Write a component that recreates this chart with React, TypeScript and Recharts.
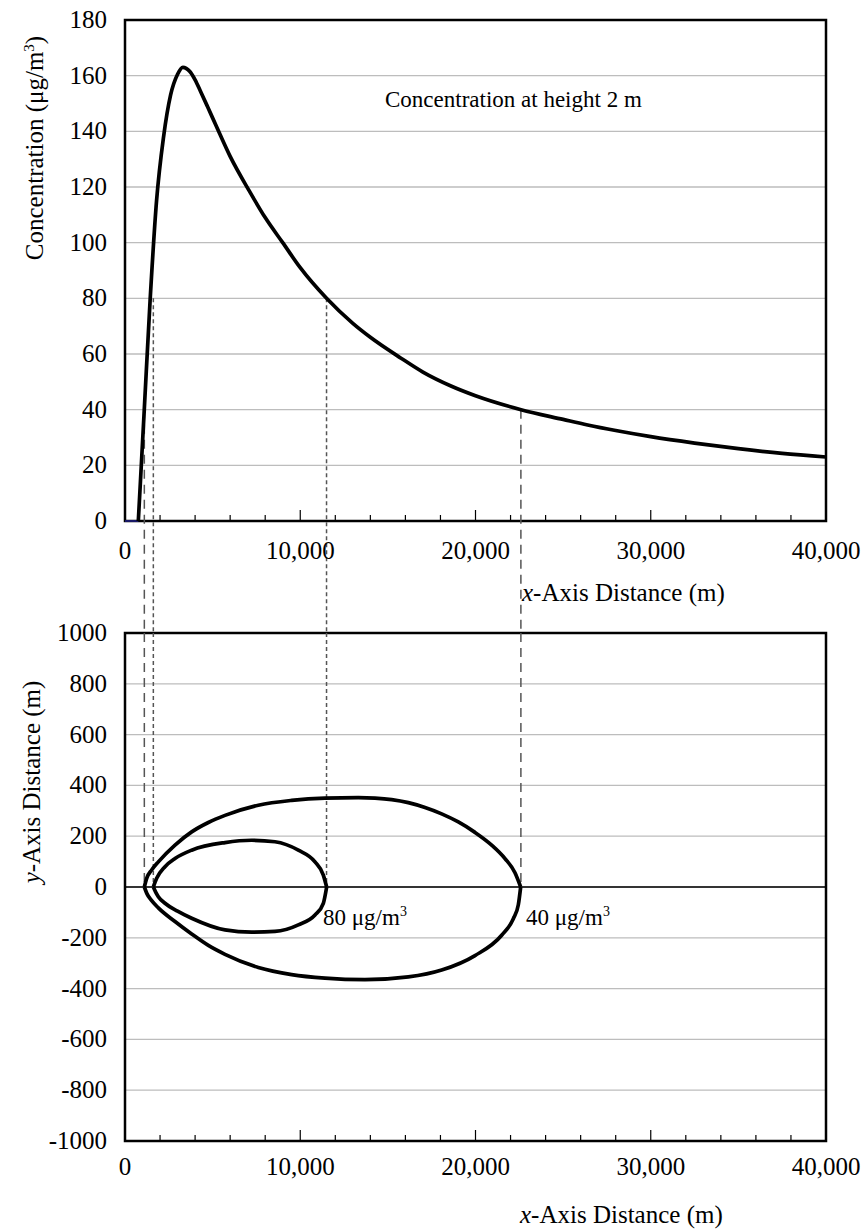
import React from 'react';
import {
  LineChart,
  Line,
  XAxis,
  YAxis,
  CartesianGrid,
  ReferenceLine,
  ReferenceArea,
} from 'recharts';

// ground-level concentration along the plume axis
const concX = [760, 1100, 1430, 1800, 2200, 2600, 3000, 3300, 3700, 4000, 4300, 4700, 5200, 6000, 7100, 8000, 9000, 10000, 11500, 13000, 14000, 15750, 17000, 18600, 20000, 22600, 25000, 26400, 28000, 30000, 32500, 35000, 37500, 40000];
const concVal = [0, 40, 79, 115, 138, 153, 160.5, 163, 161.5, 158.5, 154.5, 149, 142, 131, 118.5, 109, 100, 91, 80, 71, 66, 58.5, 53.5, 48.5, 45, 40, 36.5, 34.5, 32.5, 30.3, 28, 26, 24.3, 23];
const baseX = [0, 760];
const baseVal = [0, 0];

// isopleths (upper / lower halves), x and y distance in m
const c40UpX = [1103, 1236, 1522, 1902, 2853, 3804, 4755, 5706, 7608, 9510, 11412, 13314, 14265, 15216, 16167, 17118, 18069, 19020, 19971, 20922, 21683, 22253, 22577];
const c40UpY = [0, 34, 67, 99, 165, 217, 254, 282, 322, 341, 350, 352, 350, 344, 332, 313, 288, 256, 215, 165, 112, 56, 0];
const c40LoX = [1103, 1250, 1500, 1902, 2853, 3804, 4755, 5706, 7608, 9510, 11412, 13694, 16167, 18069, 19971, 21493, 22158, 22444, 22577];
const c40LoY = [0, -26, -52, -82, -136, -185, -230, -265, -317, -345, -359, -365, -354, -327, -270, -190, -125, -70, 0];
const c80UpX = [1617, 1807, 2282, 2853, 3804, 5706, 7228, 8559, 9890, 10841, 11317, 11507];
const c80UpY = [0, 34, 80, 112, 145, 175, 184, 178, 145, 99, 47, 0];
const c80LoX = [1617, 1750, 1902, 2282, 3000, 3804, 5706, 7228, 8559, 9890, 10841, 11317, 11507];
const c80LoY = [0, -20, -38, -64, -95, -123, -169, -178, -175, -149, -110, -64, 0];

// drop lines linking the two panels
const dropX = [1103, 1617, 11500, 22590];
const dropC = [40, 80, 80, 40];
const dropLong = [true, false, false, true];

const xTicks = [0, 2000, 4000, 6000, 8000, 10000, 12000, 14000, 16000, 18000, 20000, 22000, 24000, 26000, 28000, 30000, 32000, 34000, 36000, 38000, 40000];
const concTicks = [0, 20, 40, 60, 80, 100, 120, 140, 160, 180];
const yTicks = [-1000, -800, -600, -400, -200, 0, 200, 400, 600, 800, 1000];

const zip = (xs: number[], ys: number[]) => xs.map((x, i) => ({ x, y: ys[i] }));

const FONT = "'Liberation Serif', 'Times New Roman', serif";
const GAP = 112; // px between bottom of top plot and top of lower plot

const makeXTick = (labelDy: number) => (props: any) => {
  const { x, y, payload } = props;
  const v = payload.value as number;
  const major = v % 10000 === 0;
  return (
    <g>
      {v > 0 && v < 40000 && (
        <line x1={x} x2={x} y1={y} y2={y - (major ? 11 : 6)} stroke="#000" strokeWidth={1.2} />
      )}
      {major && (
        <text x={x} y={y + labelDy} textAnchor="middle" fontFamily="Liberation Serif" fontSize={25} fill="#000">
          {v.toLocaleString('en-US')}
        </text>
      )}
    </g>
  );
};

const YTick = (props: any) => {
  const { x, y, payload } = props;
  return (
    <text x={x} y={y + 8} textAnchor="end" fontFamily="Liberation Serif" fontSize={25} fill="#000">
      {payload.value}
    </text>
  );
};

const ExtendedDrop = (props: any) => {
  const { x1, y1, x2, y2, stroke, strokeWidth, strokeDasharray } = props;
  return (
    <line
      x1={x1}
      x2={x2}
      y1={Math.min(y1, y2)}
      y2={Math.max(y1, y2) + GAP}
      stroke={stroke}
      strokeWidth={strokeWidth}
      strokeDasharray={strokeDasharray}
    />
  );
};

const axisTitle: React.CSSProperties = {
  position: 'absolute',
  fontSize: 25,
  lineHeight: '28px',
  whiteSpace: 'nowrap',
  color: '#000',
};

const LW = 3.7;

export default function App() {
  const concData = zip(concX, concVal);
  const baseData = zip(baseX, baseVal);

  return (
    <div style={{ position: 'absolute', left: 0, top: 0, width: 861, height: 1231, background: '#fff', fontFamily: FONT }}>
      <div style={{ position: 'absolute', left: 0, top: 0 }}>
        <LineChart width={861} height={640} margin={{ top: 20, right: 35, bottom: 89, left: 25 }}>
          <CartesianGrid vertical={false} stroke="#bdbdbd" strokeWidth={1.3} />
          <XAxis
            type="number"
            dataKey="x"
            domain={[0, 40000]}
            ticks={xTicks}
            interval={0}
            height={30}
            axisLine={false}
            tickLine={false}
            tickSize={0}
            tickMargin={0}
            tick={makeXTick(38)}
          />
          <YAxis
            type="number"
            dataKey="y"
            domain={[0, 180]}
            ticks={concTicks}
            interval={0}
            width={100}
            axisLine={false}
            tickLine={false}
            tickSize={0}
            tickMargin={18}
            tick={YTick}
          />
          {dropX.map((x, i) => (
            <ReferenceLine
              key={x}
              segment={[{ x, y: dropC[i] }, { x, y: 0 }]}
              stroke="#555"
              strokeWidth={1.5}
              strokeDasharray={dropLong[i] ? '9 6' : '4 3'}
              shape={ExtendedDrop}
            />
          ))}
          <Line data={baseData} dataKey="y" type="linear" stroke="#22228a" strokeWidth={1.5} dot={false} activeDot={false} isAnimationActive={false} />
          <Line data={concData} dataKey="y" type="monotone" stroke="#000" strokeWidth={LW} dot={false} activeDot={false} isAnimationActive={false} />
          <ReferenceArea x1={0} x2={40000} y1={0} y2={180} fill="none" stroke="#000" strokeWidth={2.5} />
        </LineChart>
      </div>

      <div style={{ position: 'absolute', left: 0, top: 613 }}>
        <LineChart width={861} height={618} margin={{ top: 20, right: 35, bottom: 60, left: 25 }}>
          <CartesianGrid vertical={false} stroke="#bdbdbd" strokeWidth={1.3} />
          <XAxis
            type="number"
            dataKey="x"
            domain={[0, 40000]}
            ticks={xTicks}
            interval={0}
            height={30}
            axisLine={false}
            tickLine={false}
            tickSize={0}
            tickMargin={0}
            tick={makeXTick(34)}
          />
          <YAxis
            type="number"
            dataKey="y"
            domain={[-1000, 1000]}
            ticks={yTicks}
            interval={0}
            width={100}
            axisLine={false}
            tickLine={false}
            tickSize={0}
            tickMargin={18}
            tick={YTick}
          />
          <ReferenceLine y={0} stroke="#000" strokeWidth={1.6} />
          {dropX.map((x, i) => (
            <ReferenceLine
              key={x}
              segment={[{ x, y: 1000 }, { x, y: 0 }]}
              stroke="#555"
              strokeWidth={1.5}
              strokeDasharray={dropLong[i] ? '9 6' : '4 3'}
            />
          ))}
          <Line data={zip(c40UpX, c40UpY)} dataKey="y" type="monotone" stroke="#000" strokeWidth={LW} dot={false} activeDot={false} isAnimationActive={false} />
          <Line data={zip(c40LoX, c40LoY)} dataKey="y" type="monotone" stroke="#000" strokeWidth={LW} dot={false} activeDot={false} isAnimationActive={false} />
          <Line data={zip(c80UpX, c80UpY)} dataKey="y" type="monotone" stroke="#000" strokeWidth={LW} dot={false} activeDot={false} isAnimationActive={false} />
          <Line data={zip(c80LoX, c80LoY)} dataKey="y" type="monotone" stroke="#000" strokeWidth={LW} dot={false} activeDot={false} isAnimationActive={false} />
          <ReferenceArea x1={0} x2={40000} y1={-1000} y2={1000} fill="none" stroke="#000" strokeWidth={2.5} />
        </LineChart>
      </div>

      <div style={{ ...axisTitle, fontSize: 23, left: 385, top: 86 }}>Concentration at height 2 m</div>
      <div style={{ ...axisTitle, fontSize: 23, left: 323, top: 898 }}>
        80 μg/m<sup style={{ fontSize: 14 }}>3</sup>
      </div>
      <div style={{ ...axisTitle, fontSize: 23, left: 526, top: 898 }}>
        40 μg/m<sup style={{ fontSize: 14 }}>3</sup>
      </div>

      <div style={{ ...axisTitle, left: 522, top: 579 }}>
        <i>x</i>-Axis Distance (m)
      </div>
      <div style={{ ...axisTitle, left: 520, top: 1201 }}>
        <i>x</i>-Axis Distance (m)
      </div>

      <div style={{ ...axisTitle, left: 32, top: 148, transform: 'translate(-50%, -50%) rotate(-90deg)' }}>
        Concentration (μg/m<sup style={{ fontSize: 15 }}>3</sup>)
      </div>
      <div style={{ ...axisTitle, left: 32, top: 782, transform: 'translate(-50%, -50%) rotate(-90deg)' }}>
        <i>y</i>-Axis Distance (m)
      </div>
    </div>
  );
}
